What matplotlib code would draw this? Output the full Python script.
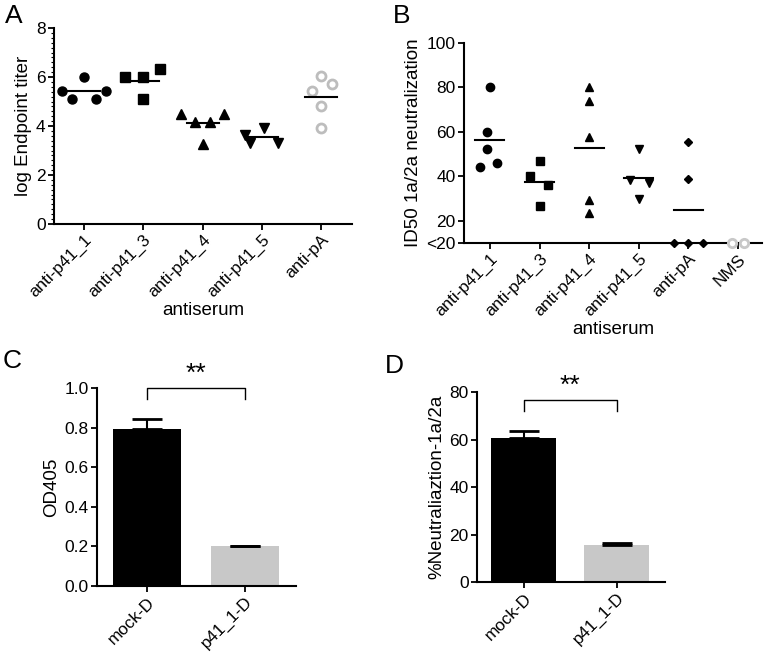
import matplotlib
matplotlib.use("Agg")
import matplotlib.pyplot as plt
from matplotlib.ticker import MultipleLocator

plt.rcParams['font.family'] = ['Liberation Sans', 'DejaVu Sans']

# panel A: log endpoint titer
groups_a = ['anti-p41_1', 'anti-p41_3', 'anti-p41_4', 'anti-p41_5', 'anti-pA']
titer_p41_1 = [6.0, 5.45, 5.45, 5.1, 5.1]
titer_p41_3 = [6.0, 6.0, 6.32, 5.1]
titer_p41_4 = [4.49, 4.16, 4.16, 4.49, 3.27]
titer_p41_5 = [3.65, 3.93, 3.3, 3.3]
titer_pA = [6.06, 5.44, 5.7, 4.81, 3.93]

# panel B: ID50 neutralization (10 means "<20")
groups_b = ['anti-p41_1', 'anti-p41_3', 'anti-p41_4', 'anti-p41_5', 'anti-pA', 'NMS']
id50_p41_1 = [80, 60, 52.3, 44.1, 46.2]
id50_p41_3 = [46.9, 40.3, 36.1, 26.5]
id50_p41_4 = [80, 73.8, 57.6, 29.2, 23.3]
id50_p41_5 = [52.3, 38.3, 37.1, 29.8]
id50_pA = [55.6, 38.8, 10, 10, 10]
id50_nms = [10, 10]

# panels C, D: bars
bar_groups = ['mock-D', 'p41_1-D']
od405 = [0.795, 0.2]
od405_err = [0.048, 0.003]
neutr = [60.7, 15.6]
neutr_err = [3.0, 0.7]

# horizontal spread of the dots
spread_a = [[0, -0.37, 0.37, -0.2, 0.2], [-0.3, 0, 0.28, 0], [-0.37, -0.12, 0.12, 0.37, 0],
            [-0.28, 0.03, -0.2, 0.28], [0, -0.15, 0.18, 0, 0]]
spread_b = [[0, -0.05, -0.05, -0.2, 0.15], [0, -0.2, 0.17, 0], [0, 0, 0, 0, 0],
            [0, -0.17, 0.2, 0], [0, 0, -0.3, 0, 0.3], [-0.12, 0.12]]

fig = plt.figure(figsize=(7.69, 6.53), dpi=100)

def style(ax):
    for s in ['top', 'right']:
        ax.spines[s].set_visible(False)
    for s in ['left', 'bottom']:
        ax.spines[s].set_linewidth(1.5)
    ax.tick_params(width=1.3, length=4, labelsize=12.5, pad=2)

def xlabels(ax, labels):
    ax.set_xticks(range(len(labels)))
    ax.set_xticklabels(labels, rotation=45, ha='right', rotation_mode='anchor', fontsize=12.3)

# ---- A
axA = fig.add_axes([0.0702, 0.657, 0.3875, 0.300])
style(axA)
data_a = [titer_p41_1, titer_p41_3, titer_p41_4, titer_p41_5, titer_pA]
mk_a = ['o', 's', '^', 'v', 'o']
for i, vals in enumerate(data_a):
    xs = [i + d for d in spread_a[i]]
    if i == 4:
        axA.plot(xs, vals, 'o', ms=6.5, mfc='white', mec='#bdbdbd', mew=2, ls='none')
    else:
        axA.plot(xs, vals, mk_a[i], ms=6.5, color='black', ls='none')
    m = sum(vals) / len(vals)
    axA.plot([i - 0.27, i + 0.27], [m, m], color='black', lw=1.5)
axA.set_xlim(-0.506, 4.52)
axA.set_ylim(0, 8)
axA.set_yticks([0, 2, 4, 6, 8])
axA.yaxis.set_minor_locator(MultipleLocator(0.2))
axA.tick_params(axis='y', which='minor', length=2, width=0.8)
xlabels(axA, groups_a)
axA.set_ylabel('log Endpoint titer', fontsize=13.5, labelpad=3)
axA.set_xlabel('antiserum', fontsize=13.5, labelpad=1)

# ---- B
axB = fig.add_axes([0.6034, 0.6279, 0.3875, 0.3063])
style(axB)
data_b = [id50_p41_1, id50_p41_3, id50_p41_4, id50_p41_5, id50_pA, id50_nms]
mk_b = ['o', 's', '^', 'v', 'D', 'o']
for i, vals in enumerate(data_b):
    xs = [i + d for d in spread_b[i]]
    if i == 5:
        axB.plot(xs, vals, 'o', ms=6, mfc='white', mec='#c8c8c8', mew=2, ls='none', clip_on=False, zorder=5)
        continue
    ms = 4.5 if mk_b[i] == 'D' else 6
    axB.plot(xs, vals, mk_b[i], ms=ms, color='black', ls='none', clip_on=False, zorder=5)
    m = sum(vals) / len(vals)
    axB.plot([i - 0.29, i + 0.29], [m, m], color='black', lw=1.5)
axB.set_xlim(-0.52, 5.48)
axB.set_ylim(10, 100)
axB.set_yticks([10, 20, 40, 60, 80, 100])
axB.set_yticklabels(['<20', '20', '40', '60', '80', '100'])
xlabels(axB, groups_b)
axB.set_ylabel('ID50 1a/2a neutralization', fontsize=13.5, labelpad=3)
axB.set_xlabel('antiserum', fontsize=13.5, labelpad=1)

# ---- C
axC = fig.add_axes([0.1261, 0.1026, 0.2588, 0.3032])
style(axC)
axC.bar(range(2), od405, width=0.69, color=['black', '#c8c8c8'])
axC.errorbar(range(2), od405, yerr=[[0, 0], od405_err], fmt='none', ecolor='black',
             elinewidth=1.5, capsize=11, capthick=2)
axC.set_xlim(-0.51, 1.52)
axC.set_ylim(0, 1.0)
axC.set_yticks([0, 0.2, 0.4, 0.6, 0.8, 1.0])
axC.set_yticklabels(['0.0', '0.2', '0.4', '0.6', '0.8', '1.0'])
xlabels(axC, bar_groups)
axC.set_ylabel('OD405', fontsize=13.5, labelpad=3)
axC.plot([0, 0, 1, 1], [0.945, 1.0, 1.0, 0.945], color='black', lw=1, clip_on=False)
axC.text(0.5, 1.01, '**', ha='center', va='bottom', fontsize=19)

# ---- D
axD = fig.add_axes([0.6203, 0.1087, 0.2445, 0.291])
style(axD)
axD.bar(range(2), neutr, width=0.70, color=['black', '#c8c8c8'])
axD.errorbar(range(2), neutr, yerr=[[0, 0], neutr_err], fmt='none', ecolor='black',
             elinewidth=1.5, capsize=11, capthick=2)
axD.set_xlim(-0.505, 1.52)
axD.set_ylim(0, 80)
axD.set_yticks([0, 20, 40, 60, 80])
xlabels(axD, bar_groups)
axD.set_ylabel('%Neutraliaztion-1a/2a', fontsize=13.5, labelpad=3)
axD.plot([0, 0, 1, 1], [72, 76.6, 76.6, 72], color='black', lw=1, clip_on=False)
axD.text(0.5, 77.5, '**', ha='center', va='bottom', fontsize=19)

# panel letters (baseline placed)
for lab, x, y in [('A', 0.006, 0.9648), ('B', 0.511, 0.9648), ('C', 0.004, 0.4365), ('D', 0.50, 0.4288)]:
    fig.text(x, y, lab, fontsize=19, ha='left', va='baseline')

fig.savefig('out.png', dpi=100)
